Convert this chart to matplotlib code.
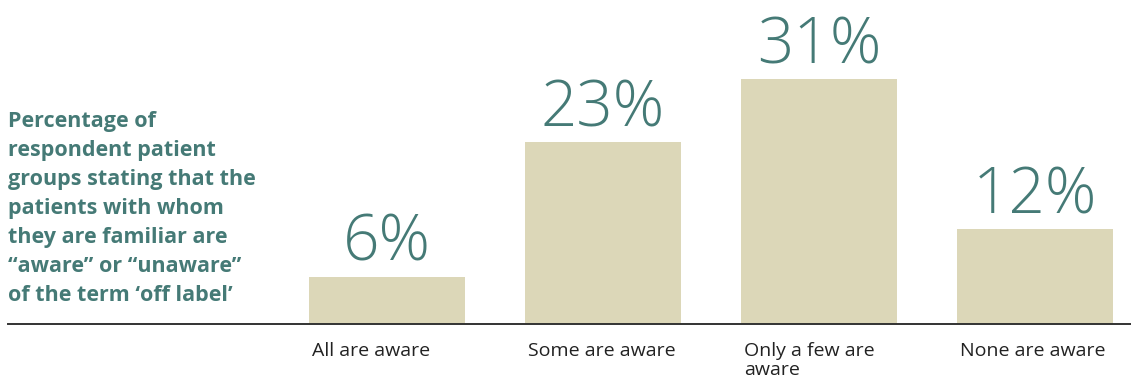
import matplotlib
matplotlib.use("Agg")
import matplotlib.pyplot as plt

categories = ["All are aware", "Some are aware", "Only a few are\naware", "None are aware"]
values = [6, 23, 31, 12]
value_labels = ["6%", "23%", "31%", "12%"]
side_note = ("Percentage of\nrespondent patient\ngroups stating that the\n"
             "patients with whom\nthey are familiar are\n\u201caware\u201d or \u201cunaware\u201d\n"
             "of the term \u2018off label\u2019")

TEAL = "#457a76"
BAR = "#dcd7b8"
W, H = 1131, 378

fig = plt.figure(figsize=(W / 100, H / 100), dpi=100)
# axes sits on the baseline and spans the full width
ax = fig.add_axes([0, 54 / H, 1, 1 - 54 / H])
ax.set_xlim(-1.792, 3.444)
ax.set_ylim(0, 324 / 7.9)
ax.axis("off")

x = range(len(values))
ax.bar(x, values, width=0.722, color=BAR, zorder=1)
ax.axhline(0, xmin=8 / W, xmax=1, color="#333333", lw=1.4, zorder=2, clip_on=False)

for xi, v, lab in zip(x, values, value_labels):
    ax.annotate(lab, (xi, v), xytext=(0, 11.5), textcoords="offset points",
                ha="center", va="baseline", fontsize=46, color=TEAL,
                family="Open Sans", fontweight="light")

for xi, cat in zip(x, categories):
    ax.annotate(cat, (xi - 0.361, 0), xytext=(2, -13), textcoords="offset points",
                ha="left", va="top", fontsize=14, color="#222222",
                family="Open Sans", linespacing=1.08, annotation_clip=False)

fig.text(8 / W, 1 - 111 / H, side_note, ha="left", va="top", fontsize=15.5,
         color=TEAL, family="Open Sans", fontweight="bold", linespacing=1.5)

fig.savefig("out.png", dpi=100)
